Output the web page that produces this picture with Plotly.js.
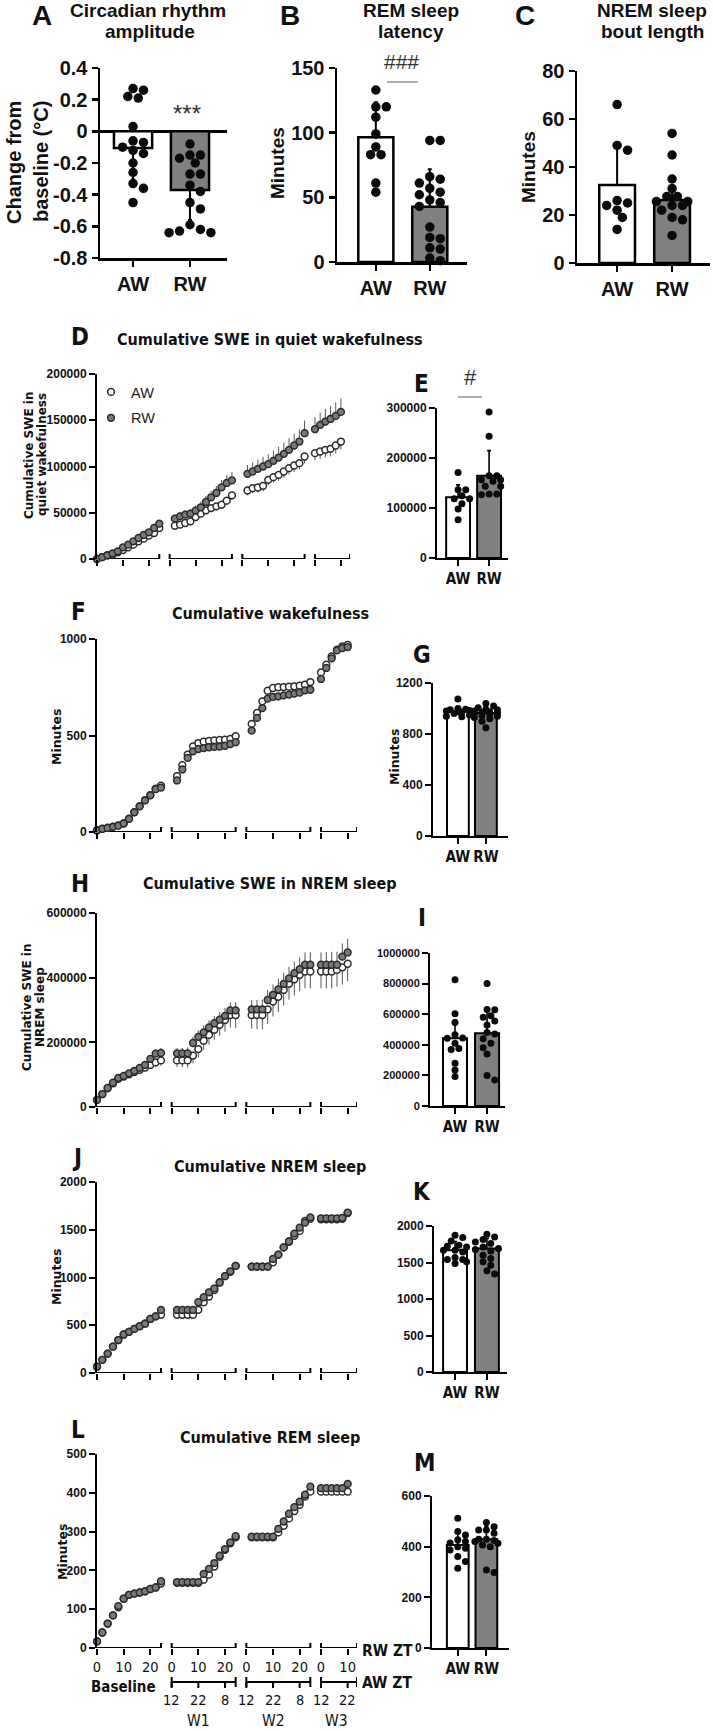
<!DOCTYPE html>
<html><head><meta charset="utf-8">
<script src="https://cdn.plot.ly/plotly-3.0.1.min.js"></script>
<style>html,body{margin:0;padding:0;background:#fff}#chart{width:713px;height:1731px}</style>
</head><body><div id="chart"></div>
<script>
// ================= DATA =================
const groups = ['AW', 'RW'];

// A: circadian rhythm amplitude (change from baseline, °C)
const ampMean = [-0.105, -0.37];
const ampSD = [0.20, 0.19];
const ampAW = [0.27, 0.26, 0.22, 0.21, 0.03, -0.06, -0.07, -0.10, -0.12, -0.14, -0.20, -0.26, -0.33, -0.36, -0.45];
const ampRW = [-0.08, -0.15, -0.15, -0.17, -0.20, -0.27, -0.27, -0.34, -0.38, -0.45, -0.49, -0.59, -0.62, -0.63, -0.64, -0.64];

// B: REM sleep latency (min)
const remLatMean = [96.5, 42.7];
const remLatSD = [27, 29];
const remLatAW = [133, 120, 120, 112, 99, 89, 83, 83, 61, 54];
const remLatRW = [94, 94, 66, 64, 61, 57, 54, 52, 48, 46, 43, 27, 19, 18, 11, 10, 3, 1];

// C: NREM sleep bout length (min)
const boutMean = [32.5, 26.3];
const boutSD = [17.3, 5.5];
const boutAW = [66, 49, 47, 26, 25, 24, 22, 19, 14];
const boutRW = [54, 45, 35, 31, 27.7, 27.7, 25.6, 25.6, 24, 24, 22, 19, 18, 11.5];

// Time axis (ZT hours) per segment
const segNames = ['Baseline', 'W1', 'W2', 'W3'];
const baseZT = [0, 2, 4, 6, 8, 10, 12, 14, 16, 18, 20, 22, 24];
const w1ZT = [2, 4, 6, 8, 10, 12, 14, 16, 18, 20, 22, 24];
const w2ZT = [2, 4, 6, 8, 10, 12, 14, 16, 18, 20, 22, 24];
const w3ZT = [0, 2, 4, 6, 8, 10];
const rwZtTicks = [[0, 10, 20], [0, 10, 20], [0, 10, 20], [0, 10]];
const awZtTickText = ['12', '22', '8'];

// D: cumulative SWE in quiet wakefulness
const swqAW = [0, 2000, 4000, 4700, 7200, 9700, 12600, 15500, 19100, 22000, 25200, 28100, 33500,
  36000, 37100, 38900, 40700, 45400, 49000, 52600, 55100, 56900, 58700, 63100, 68800,
  74100, 76600, 77300, 79100, 85600, 88500, 91000, 94600, 98200, 101100, 103600, 110800,
  114400, 116200, 118000, 119100, 122700, 127000];
const swqRW = [0, 2000, 4000, 6100, 8300, 12600, 15500, 19100, 22700, 26000, 28800, 33500, 38200,
  43600, 46100, 47900, 49000, 52300, 55900, 61600, 66700, 71400, 77500, 82200, 85000,
  92100, 94600, 97500, 100000, 102500, 106100, 109700, 113700, 118000, 122700, 127000, 136000,
  140300, 145000, 148600, 151400, 154700, 159000];
const swqErrAW = [0, 200, 400, 500, 700, 900, 1100, 1300, 1500, 1700, 1900, 2100, 2400,
  2800, 3000, 3200, 3400, 3600, 3800, 4000, 4200, 4400, 4600, 4800, 5000,
  5200, 5400, 5600, 5800, 6000, 6200, 6400, 6600, 6800, 7000, 7200, 7400,
  7600, 7800, 8000, 8200, 8400, 8600];
const swqErrRW = [0, 300, 500, 800, 1000, 1300, 1600, 2000, 2300, 2700, 3000, 3400, 3800,
  4500, 4800, 5000, 5300, 5600, 6000, 6500, 7000, 7500, 8000, 8500, 9000,
  9500, 9800, 10000, 10400, 10800, 11200, 11600, 12000, 12400, 12800, 13200, 13600,
  13000, 13300, 13600, 14000, 14300, 14600];

// E: total SWE in quiet wakefulness
const swqTotMean = [121300, 164700];
const swqTotSD = [25000, 50000];
const swqTotAW = [171000, 136700, 136700, 124700, 118700, 118700, 108700, 98000, 76700];
const swqTotRW = [292000, 243300, 164700, 164700, 156700, 156700, 153300, 143300, 143300, 128000, 128000, 126700];

// F: cumulative wakefulness (min)
const wakeAW = [9, 17, 22, 28, 34, 45, 69, 103, 134, 165, 191, 224, 240,
  289, 346, 401, 444, 461, 468, 472, 475, 477, 478, 482, 496,
  560, 617, 677, 732, 746, 750, 751, 753, 755, 758, 763, 777,
  827, 867, 910, 945, 962, 969];
const wakeRW = [8, 16, 21, 27, 33, 44, 68, 102, 133, 164, 190, 222, 230,
  267, 324, 384, 418, 430, 435, 439, 441, 442, 447, 456, 465,
  525, 591, 642, 691, 700, 703, 708, 712, 717, 722, 734, 737,
  793, 850, 900, 941, 953, 958];

// G: total wakefulness (min)
const wakeTotMean = [977, 964];
const wakeTotSD = [38, 45];
const wakeTotAW = [1075, 1000, 995, 990, 985, 980, 975, 970, 960, 950, 940, 935];
const wakeTotRW = [1040, 1020, 1005, 995, 990, 980, 975, 970, 965, 960, 955, 945, 940, 930, 920, 900, 850];

// H: cumulative SWE in NREM sleep
const swnAW = [22000, 40000, 58000, 73000, 87000, 94000, 101000, 108000, 115000, 122000, 130000, 138000, 144000,
  144000, 144000, 144000, 159000, 179000, 205000, 223000, 239000, 254000, 269000, 284000, 284000,
  284000, 284000, 284000, 302000, 326000, 341000, 362000, 381000, 395000, 409000, 419000, 419000,
  419000, 419000, 419000, 424000, 432000, 443000];
const swnRW = [22000, 40000, 59000, 75000, 90000, 96000, 104000, 112000, 121000, 130000, 149000, 165000, 167000,
  166000, 166000, 166000, 198000, 217000, 231000, 246000, 259000, 270000, 282000, 299000, 299000,
  302000, 302000, 302000, 331000, 347000, 364000, 381000, 398000, 414000, 426000, 440000, 440000,
  440000, 440000, 440000, 440000, 465000, 478000];
const swnErrAW = [1000, 2000, 3000, 4000, 5000, 6000, 7000, 8000, 9000, 10000, 12000, 14000, 16000,
  20000, 21000, 22000, 24000, 26000, 28000, 30000, 32000, 34000, 36000, 38000, 40000,
  42000, 43000, 44000, 45000, 46000, 47000, 48000, 49000, 50000, 51000, 52000, 52000,
  52000, 52000, 52000, 52000, 53000, 54000];
const swnErrRW = [1000, 2000, 3000, 4000, 5000, 6000, 7000, 8000, 9000, 10000, 11000, 13000, 15000,
  16000, 17000, 18000, 19000, 20000, 21000, 22000, 23000, 24000, 24000, 25000, 25000,
  28000, 29000, 30000, 31000, 32000, 33000, 34000, 35000, 36000, 37000, 38000, 38000,
  38000, 39000, 40000, 40000, 41000, 42000];

// I: total SWE in NREM sleep
const swnTotMean = [443000, 476000];
const swnTotSD = [120000, 142000];
const swnTotAW = [825000, 603000, 546000, 465000, 445000, 443000, 410000, 375000, 370000, 280000, 235000, 192000];
const swnTotRW = [800000, 630000, 629000, 590000, 580000, 555000, 530000, 480000, 470000, 440000, 410000, 380000, 340000, 200000, 170000];

// J: cumulative NREM sleep (min)
const nremAW = [66, 138, 203, 276, 345, 403, 431, 462, 490, 517, 566, 593, 610,
  610, 610, 610, 610, 662, 741, 800, 869, 948, 1014, 1059, 1121,
  1114, 1114, 1114, 1114, 1159, 1239, 1315, 1377, 1436, 1488, 1592, 1615,
  1610, 1610, 1610, 1610, 1615, 1675];
const nremRW = [66, 138, 203, 276, 345, 403, 431, 462, 490, 517, 566, 593, 660,
  660, 660, 660, 660, 741, 793, 845, 886, 948, 1014, 1065, 1121,
  1114, 1114, 1114, 1114, 1194, 1239, 1315, 1377, 1460, 1522, 1574, 1630,
  1620, 1620, 1620, 1620, 1625, 1680];

// K: total NREM sleep (min)
const nremTotMean = [1668, 1691];
const nremTotSD = [120, 140];
const nremTotAW = [1873, 1841, 1795, 1736, 1723, 1714, 1668, 1668, 1645, 1568, 1541, 1541, 1509, 1486];
const nremTotRW = [1886, 1850, 1814, 1782, 1759, 1714, 1691, 1677, 1659, 1600, 1555, 1509, 1464, 1386, 1341];

// L: cumulative REM sleep (min)
const remAW = [17, 40, 63, 84, 105, 127, 137, 140, 143, 146, 152, 156, 166,
  168, 168, 168, 168, 168, 176, 189, 210, 235, 253, 270, 285,
  285, 285, 285, 285, 285, 298, 315, 334, 353, 369, 390, 403,
  403, 403, 403, 403, 403, 403];
const remRW = [17, 40, 63, 84, 108, 127, 137, 140, 143, 146, 152, 156, 172,
  170, 170, 170, 170, 170, 191, 204, 219, 238, 255, 272, 288,
  287, 287, 287, 287, 287, 307, 326, 346, 363, 377, 395, 416,
  412, 412, 412, 412, 412, 423];

// M: total REM sleep (min)
const remTotMean = [407, 429];
const remTotSD = [50, 52];
const remTotAW = [512, 460, 446, 427, 420, 414, 400, 394, 387, 361, 341, 315];
const remTotRW = [495, 479, 466, 466, 453, 429, 429, 424, 420, 413, 407, 400, 308, 298];

// ================= LAYOUT HELPERS =================
const W = 713, H = 1731;
const px2x = p => p / W;
const px2y = p => 1 - p / H;
const ARIAL = '"Liberation Sans", Arial, sans-serif';
const NARROW = '"Liberation Sans Narrow", "Arial Narrow", "DejaVu Sans Condensed", sans-serif';
const VERD = '"DejaVu Sans", Verdana, sans-serif';
const traces = [], shapes = [], annotations = [];
const layout = {
  width: W, height: H, margin: {l: 0, r: 0, t: 0, b: 0},
  paper_bgcolor: '#ffffff', plot_bgcolor: 'rgba(0,0,0,0)',
  showlegend: true, shapes, annotations,
  legend: {x: px2x(91), y: px2y(376), xanchor: 'left', yanchor: 'top', bgcolor: 'rgba(0,0,0,0)',
    font: {family: ARIAL, size: 14.5, color: '#222'}, traceorder: 'grouped', tracegroupgap: 4, itemwidth: 30}
};
let nAx = 0;
function axes(box, xr, yr) {
  nAx++;
  const s = nAx === 1 ? '' : String(nAx);
  const xk = 'xaxis' + s, yk = 'yaxis' + s;
  layout[xk] = {domain: [px2x(box[0]), px2x(box[1])], range: xr, anchor: 'y' + s, showgrid: false, zeroline: false, fixedrange: true};
  layout[yk] = {domain: [px2y(box[3]), px2y(box[2])], range: yr, anchor: 'x' + s, showgrid: false, zeroline: false, fixedrange: true};
  return {x: 'x' + s, y: 'y' + s, xk, yk};
}
function ann(text, x, y, size, family, opt) {
  opt = opt || {};
  annotations.push(Object.assign({
    text, x: px2x(x), y: px2y(y), xref: 'paper', yref: 'paper', xanchor: opt.xanchor || 'center', yanchor: 'middle',
    showarrow: false, font: {family, size, color: opt.color || '#111', weight: opt.weight || 'normal'}
  }, opt.extra || {}));
}
function pline(x0, y0, x1, y1, color, width) {
  shapes.push({type: 'line', xref: 'paper', yref: 'paper', x0: px2x(x0), x1: px2x(x1), y0: px2y(y0), y1: px2y(y1), line: {color, width}});
}
function swarmOffsets(vals, pxX, pxY, diam, maxPx) {
  const order = vals.map((v, i) => i).sort((a, b) => vals[b] - vals[a]);
  const placed = [], out = new Array(vals.length).fill(0);
  const step = diam * 0.55;
  for (const i of order) {
    const yp = vals[i] * pxY;
    let best = 0, bestOv = Infinity;
    for (let k = 0; k <= 14 && bestOv > 0; k++) {
      const cands = k === 0 ? [0] : (k % 2 ? [Math.ceil(k / 2) * step, -Math.ceil(k / 2) * step] : [-(k / 2) * step, (k / 2) * step]);
      for (const c of cands) {
        if (Math.abs(c) > maxPx) continue;
        let ov = 0;
        for (const p of placed) { const d = Math.hypot(p.x - c, p.y - yp); if (d < diam * 0.92) ov += diam * 0.92 - d; }
        if (ov < bestOv - 1e-9) { bestOv = ov; best = c; }
        if (ov === 0) break;
      }
    }
    placed.push({x: best, y: yp});
    out[i] = best / pxX;
  }
  return out;
}
function barPanel(o) {
  const a = axes(o.box, o.xr, o.yr);
  Object.assign(layout[a.xk], {showline: true, linecolor: '#000', linewidth: o.lw, ticks: 'outside', ticklen: 6, tickwidth: o.lw, tickcolor: '#000',
    tickvals: [0, 1], ticktext: groups, tickfont: o.xfont});
  Object.assign(layout[a.yk], {showline: true, linecolor: '#000', linewidth: o.lw, ticks: 'outside', ticklen: 6, tickwidth: o.lw, tickcolor: '#000',
    tickvals: o.yticks, ticktext: o.yticktext || o.yticks.map(String), tickfont: o.yfont});
  if (o.zero) Object.assign(layout[a.yk], {zeroline: true, zerolinecolor: '#000', zerolinewidth: o.lw});
  traces.push({type: 'bar', x: [0, 1], y: o.means, width: o.barW, xaxis: a.x, yaxis: a.y, showlegend: false,
    marker: {color: ['#ffffff', '#808080'], line: {color: '#000', width: o.lw}},
    error_y: {type: 'data', symmetric: false, array: o.means.map((m, i) => m >= 0 ? o.sds[i] : 0),
      arrayminus: o.means.map((m, i) => m < 0 ? o.sds[i] : 0), color: '#000', thickness: o.lw * 0.8, width: 2}});
  const pxX = (o.box[1] - o.box[0]) / (o.xr[1] - o.xr[0]);
  const pxY = (o.box[3] - o.box[2]) / (o.yr[1] - o.yr[0]);
  [o.ptsAW, o.ptsRW].forEach((pts, g) => {
    const off = swarmOffsets(pts, pxX, pxY, o.dot, o.barW * pxX * 0.55);
    traces.push({type: 'scatter', mode: 'markers', x: pts.map((v, i) => g + off[i]), y: pts, xaxis: a.x, yaxis: a.y,
      showlegend: false, cliponaxis: false, marker: {color: '#0a0a0a', size: o.dot}});
  });
  return a;
}
const segOffset = [0, 28, 56, 84];
const segLen = [24, 24, 24, 13.5];
const tsXR = [0, 97.5];
const tsX = [].concat(baseZT.map(h => h + segOffset[0]), w1ZT.map(h => h + segOffset[1]), w2ZT.map(h => h + segOffset[2]), w3ZT.map(h => h + segOffset[3]));
const tsTickVals = [].concat(...rwZtTicks.map((t, i) => t.map(v => v + segOffset[i])));
const tsTickText = [].concat(...rwZtTicks.map(t => t.map(String)));
const tickSmall = {family: ARIAL, size: 12, color: '#111', weight: 'bold'};
function tsPanel(o) {
  const a = axes(o.box, tsXR, o.yr);
  Object.assign(layout[a.xk], {showline: false, ticks: 'outside', ticklen: 6, tickwidth: 2, tickcolor: '#000',
    tickvals: tsTickVals, ticktext: tsTickText, showticklabels: !!o.labels,
    tickfont: {family: NARROW, size: 14.5, color: '#111'}});
  Object.assign(layout[a.yk], {showline: true, linecolor: '#000', linewidth: 2, ticks: 'outside', ticklen: 6, tickwidth: 2, tickcolor: '#000',
    tickvals: o.yticks, ticktext: o.yticks.map(String), tickfont: tickSmall});
  segOffset.forEach((s, i) => {
    shapes.push({type: 'line', layer: 'below', xref: a.x, yref: a.y, x0: s, x1: s + segLen[i], y0: 0, y1: 0, line: {color: '#000', width: 2}});
    const caps = i === 0 ? [s + segLen[i]] : [s, s + segLen[i]];
    caps.forEach(c => shapes.push({type: 'line', layer: 'below', xref: a.x, yref: a.y, ysizemode: 'pixel', yanchor: 0,
      x0: c, x1: c, y0: -5, y1: 5, line: {color: '#000', width: 2}}));
  });
  const mk = (fill) => ({color: fill, size: 6.8, line: {color: '#2a2a2a', width: 1.5}});
  const tAW = {type: 'scatter', mode: 'markers', name: 'AW', x: tsX, y: o.aw, xaxis: a.x, yaxis: a.y, cliponaxis: false,
    showlegend: !!o.legend, legendgroup: 'aw', marker: mk('#ffffff')};
  const tRW = {type: 'scatter', mode: 'markers', name: 'RW', x: tsX, y: o.rw, xaxis: a.x, yaxis: a.y, cliponaxis: false,
    showlegend: !!o.legend, legendgroup: 'rw', marker: mk('#7a7a7a')};
  if (o.errAW) tAW.error_y = {type: 'data', symmetric: false, array: o.errAW.map(() => 0), arrayminus: o.errAW, color: '#555', thickness: 1, width: 0};
  if (o.errRW) tRW.error_y = {type: 'data', symmetric: false, array: o.errRW, arrayminus: o.errRW.map(() => 0), color: '#555', thickness: 1, width: 0};
  traces.push(tAW, tRW);
  return a;
}

// ================= PANELS =================
const bigX = {family: ARIAL, size: 20, color: '#111', weight: 'bold'};
const smallX = {family: NARROW, size: 15, color: '#111', weight: 'bold'};

barPanel({box: [100, 227, 68, 258], xr: [-0.58, 1.65], yr: [-0.8, 0.4], yticks: [-0.8, -0.6, -0.4, -0.2, 0, 0.2, 0.4],
  yticktext: ['-0.8', '-0.6', '-0.4', '-0.2', '0', '0.2', '0.4'], means: ampMean, sds: ampSD, ptsAW: ampAW, ptsRW: ampRW,
  barW: 0.67, dot: 9.5, lw: 2.5, xfont: bigX, yfont: bigX, zero: true});
barPanel({box: [337, 467, 68, 262], xr: [-0.72, 1.69], yr: [0, 150], yticks: [0, 50, 100, 150],
  means: remLatMean, sds: remLatSD, ptsAW: remLatAW, ptsRW: remLatRW, barW: 0.65, dot: 9.5, lw: 2.5, xfont: bigX, yfont: bigX});
barPanel({box: [577, 710, 71, 263], xr: [-0.73, 1.69], yr: [0, 80], yticks: [0, 20, 40, 60, 80],
  means: boutMean, sds: boutSD, ptsAW: boutAW, ptsRW: boutRW, barW: 0.65, dot: 9.5, lw: 2.5, xfont: bigX, yfont: bigX});

tsPanel({box: [97, 350, 374, 559], yr: [0, 200000], yticks: [0, 50000, 100000, 150000, 200000], aw: swqAW, rw: swqRW, errAW: swqErrAW, errRW: swqErrRW, legend: true});
barPanel({box: [437, 508, 408, 558], xr: [-0.68, 1.61], yr: [0, 300000], yticks: [0, 100000, 200000, 300000],
  means: swqTotMean, sds: swqTotSD, ptsAW: swqTotAW, ptsRW: swqTotRW, barW: 0.77, dot: 7, lw: 2, xfont: smallX, yfont: tickSmall});

tsPanel({box: [97, 357, 639, 832], yr: [0, 1000], yticks: [0, 500, 1000], aw: wakeAW, rw: wakeRW});
barPanel({box: [433, 508, 683, 836], xr: [-0.89, 1.79], yr: [0, 1200], yticks: [0, 400, 800, 1200],
  means: wakeTotMean, sds: wakeTotSD, ptsAW: wakeTotAW, ptsRW: wakeTotRW, barW: 0.78, dot: 7, lw: 2, xfont: smallX, yfont: tickSmall});

tsPanel({box: [97, 357, 913, 1107], yr: [0, 600000], yticks: [0, 200000, 400000, 600000], aw: swnAW, rw: swnRW, errAW: swnErrAW, errRW: swnErrRW});
barPanel({box: [430, 505, 953, 1106], xr: [-0.78, 1.56], yr: [0, 1000000], yticks: [0, 200000, 400000, 600000, 800000, 1000000],
  means: swnTotMean, sds: swnTotSD, ptsAW: swnTotAW, ptsRW: swnTotRW, barW: 0.75, dot: 7, lw: 2, xfont: smallX,
  yfont: {family: ARIAL, size: 11, color: '#111', weight: 'bold'}});

tsPanel({box: [97, 357, 1182, 1373], yr: [0, 2000], yticks: [0, 500, 1000, 1500, 2000], aw: nremAW, rw: nremRW});
barPanel({box: [434, 507, 1226, 1372], xr: [-0.66, 1.63], yr: [0, 2000], yticks: [0, 500, 1000, 1500, 2000],
  means: nremTotMean, sds: nremTotSD, ptsAW: nremTotAW, ptsRW: nremTotRW, barW: 0.75, dot: 7, lw: 2, xfont: smallX, yfont: tickSmall});

const axL = tsPanel({box: [97, 357, 1454, 1648], yr: [0, 500], yticks: [0, 100, 200, 300, 400, 500], aw: remAW, rw: remRW, labels: true});
barPanel({box: [432, 509, 1496, 1648], xr: [-0.9, 1.79], yr: [0, 600], yticks: [0, 200, 400, 600],
  means: remTotMean, sds: remTotSD, ptsAW: remTotAW, ptsRW: remTotRW, barW: 0.76, dot: 7, lw: 2, xfont: smallX, yfont: tickSmall});

// AW ZT secondary axis under panel L
const awAxisY = px2y(1682);
for (let i = 1; i < segOffset.length; i++) {
  const s = segOffset[i];
  shapes.push({type: 'line', xref: axL.x, yref: 'paper', ysizemode: 'pixel', yanchor: awAxisY, x0: s, x1: s + segLen[i], y0: 0, y1: 0, line: {color: '#000', width: 2}});
  [s, s + segLen[i]].forEach(c => shapes.push({type: 'line', xref: axL.x, yref: 'paper', ysizemode: 'pixel', yanchor: awAxisY, x0: c, x1: c, y0: -5, y1: 5, line: {color: '#000', width: 2}}));
  rwZtTicks[i].forEach((t, j) => {
    shapes.push({type: 'line', xref: axL.x, yref: 'paper', ysizemode: 'pixel', yanchor: awAxisY, x0: s + t, x1: s + t, y0: 0, y1: -6, line: {color: '#000', width: 2}});
    annotations.push({text: awZtTickText[j], x: s + t, xref: axL.x, y: px2y(1700), yref: 'paper', xanchor: 'center', yanchor: 'middle', showarrow: false,
      font: {family: NARROW, size: 14.5, color: '#111'}});
  });
}

// ================= TEXT =================
// panel letters
ann('A', 42, 15, 28, ARIAL, {weight: 'bold'});
ann('B', 290, 16, 28, ARIAL, {weight: 'bold'});
ann('C', 525, 16, 28, ARIAL, {weight: 'bold'});
[['D', 80, 337], ['E', 421, 384], ['F', 78, 612], ['G', 422, 655], ['H', 80, 884], ['I', 422, 918],
 ['J', 77, 1158], ['K', 422, 1192], ['L', 78, 1430], ['M', 425, 1463]].forEach(l => ann(l[0], l[1], l[2], 24, NARROW, {weight: 'bold'}));

// top titles
ann('Circadian rhythm', 148, 11, 19, ARIAL, {weight: 'bold'});
ann('amplitude', 150, 32, 19, ARIAL, {weight: 'bold'});
ann('REM sleep', 411, 11, 19, ARIAL, {weight: 'bold'});
ann('latency', 411, 32, 19, ARIAL, {weight: 'bold'});
ann('NREM sleep', 652, 11, 19, ARIAL, {weight: 'bold'});
ann('bout length', 652, 32, 19, ARIAL, {weight: 'bold'});

// section titles
ann('Cumulative SWE in quiet wakefulness', 270, 340, 16, NARROW, {weight: 'bold'});
ann('Cumulative wakefulness', 270, 613, 16, NARROW, {weight: 'bold'});
ann('Cumulative SWE in NREM sleep', 270, 884, 16, NARROW, {weight: 'bold'});
ann('Cumulative NREM sleep', 270, 1166, 16, NARROW, {weight: 'bold'});
ann('Cumulative REM sleep', 270, 1437, 16, NARROW, {weight: 'bold'});

// y-axis titles
const rot = {textangle: -90};
ann('Change from', 14, 163, 20, ARIAL, {weight: 'bold', extra: rot});
ann('baseline (°C)', 41, 162, 20, ARIAL, {weight: 'bold', extra: rot});
ann('Minutes', 278, 163, 19, ARIAL, {weight: 'bold', extra: rot});
ann('Minutes', 528, 167, 19, ARIAL, {weight: 'bold', extra: rot});
ann('Cumulative SWE in', 29, 455, 12, VERD, {weight: 'bold', extra: rot});
ann('quiet wakefulness', 42, 455, 12, VERD, {weight: 'bold', extra: rot});
ann('Minutes', 56, 737, 12.5, VERD, {weight: 'bold', extra: rot});
ann('Minutes', 395, 757, 12.5, VERD, {weight: 'bold', extra: rot});
ann('Cumulative SWE in', 27, 1007, 12, VERD, {weight: 'bold', extra: rot});
ann('NREM sleep', 40, 1007, 12, VERD, {weight: 'bold', extra: rot});
ann('Minutes', 56, 1277, 12.5, VERD, {weight: 'bold', extra: rot});
ann('Minutes', 62, 1552, 12.5, VERD, {weight: 'bold', extra: rot});

// significance marks
ann('***', 187, 113, 24, ARIAL, {color: '#333'});
ann('###', 401, 62, 21, ARIAL, {color: '#333'});
pline(387, 82, 418, 82, '#777', 1.2);
ann('#', 470, 378, 22, ARIAL, {color: '#333'});
pline(458, 397, 482, 397, '#777', 1.2);

// bottom axis labels
ann('RW ZT', 360, 1651, 15.5, NARROW, {weight: 'bold', xanchor: 'left'});
ann('AW ZT', 360, 1683, 15.5, NARROW, {weight: 'bold', xanchor: 'left'});
ann(segNames[0], 123, 1687, 15, NARROW, {weight: 'bold'});
ann(segNames[1], 198, 1721, 15.5, NARROW);
ann(segNames[2], 273, 1721, 15.5, NARROW);
ann(segNames[3], 336, 1721, 15.5, NARROW);

Plotly.newPlot('chart', traces, layout, {staticPlot: true, displayModeBar: false});
</script>
</body></html>
